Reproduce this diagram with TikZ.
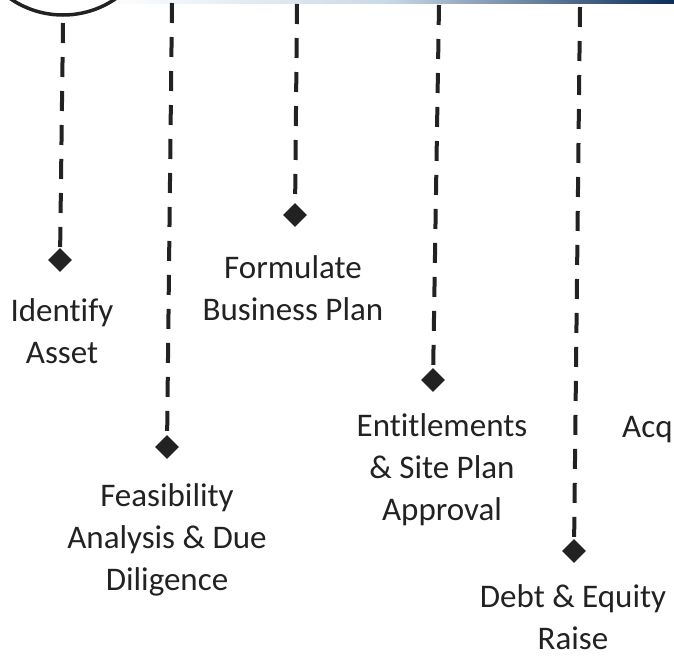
\documentclass[tikz,border=0pt]{standalone}
\usepackage{fontspec}
\setmainfont{Carlito}[RawFeature={-liga}]
\usepackage{tikz}
\usetikzlibrary{shapes.geometric}

\definecolor{inkgray}{HTML}{222222}
\definecolor{bandnavy}{HTML}{0B2D5A}
\definecolor{bandlight}{HTML}{C9D9E6}

\tikzset{
    milestone/.style={diamond, fill=inkgray, draw=none, minimum width=24pt, minimum height=24pt, inner sep=0pt},
    stem/.style={draw=inkgray, line width=4pt, dash pattern=on 20pt off 14pt},
    caption/.style={align=center, text=inkgray, font=\fontsize{33}{42}\selectfont}
}

\begin{document}
\begin{tikzpicture}[x=1pt, y=-1pt]

        \useasboundingbox (0,0) rectangle (674,656);
        \clip (0,0) rectangle (674,656);

        % top ends of the dashed stems
        \coordinate (top1) at (63,23);
        \coordinate (top2) at (172,3);
        \coordinate (top3) at (297,4);
        \coordinate (top4) at (439,5);
        \coordinate (top5) at (580,7);

        % band and circle along the top edge
        \shade[left color=white, right color=bandnavy, middle color=bandlight] (100,0) rectangle (674,3);
        \path[draw=inkgray, line width=3.5pt] (63,-78) circle (93pt);

        \node[milestone] (m1) at (60,260) {};
        \node[milestone] (m2) at (167,447) {};
        \node[milestone] (m3) at (295,215) {};
        \node[milestone] (m4) at (433,380) {};
        \node[milestone] (m5) at (574,551) {};

        \path[stem] (top1) -- (m1);
        \path[stem] (top2) -- (m2);
        \path[stem] (top3) -- (m3);
        \path[stem] (top4) -- (m4);
        \path[stem] (top5) -- (m5);

        \node[caption] (identify) at (62,331) {Identify\\Asset};
        \node[caption] (feasibility) at (167,540) {Feasibility\\Analysis \& Due\\Diligence};
        \node[caption] (business) at (293,288) {Formulate\\Business Plan};
        \node[caption] (entitlements) at (442,470) {Entitlements\\\& Site Plan\\Approval};
        \node[caption, inner sep=1pt] (raise) at (573,617) {Debt \& Equity\\Raise};
        \node[caption, anchor=west, inner sep=0pt] (acq) at (622,430) {Acq};

\end{tikzpicture}
\end{document}
